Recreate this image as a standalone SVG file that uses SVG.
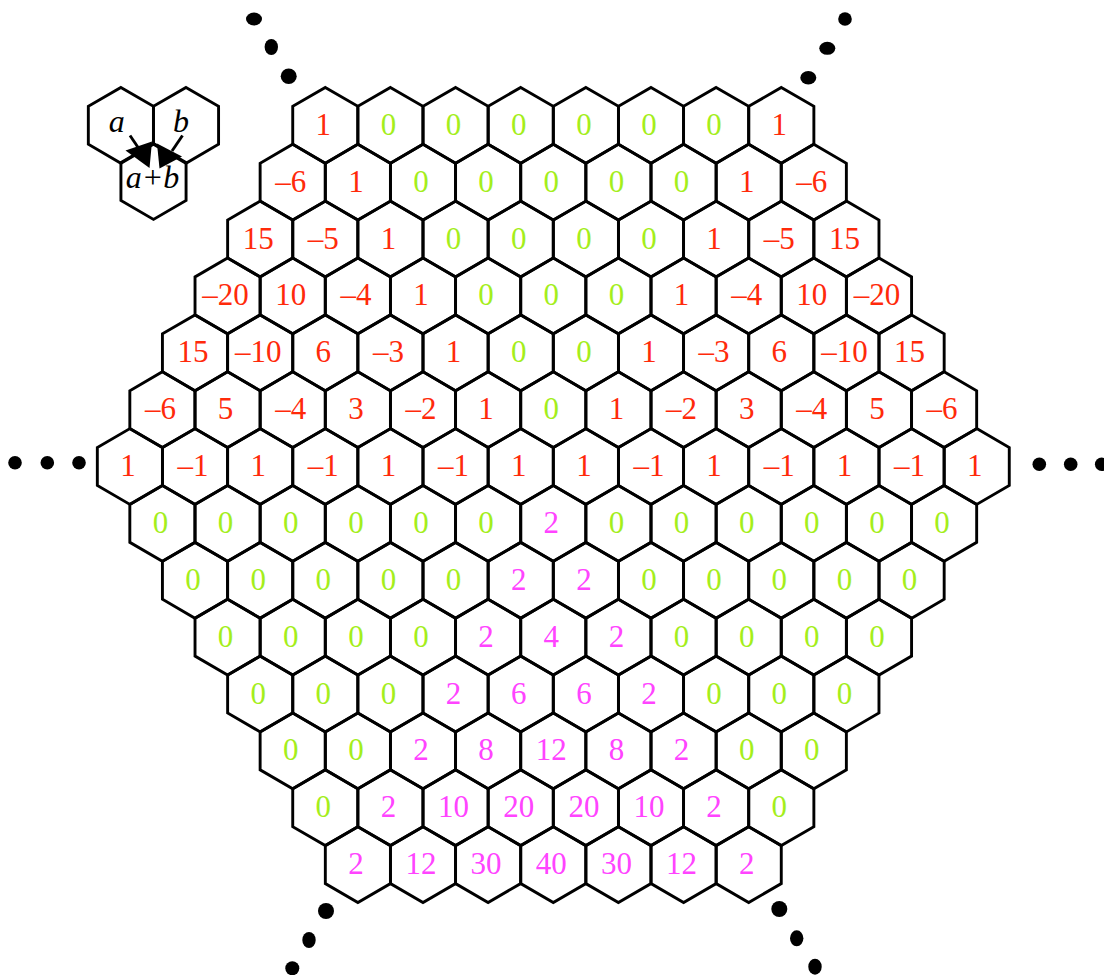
<svg xmlns="http://www.w3.org/2000/svg" xmlns:xlink="http://www.w3.org/1999/xlink" width="1104" height="975" viewBox="0 0 1104 975">
<style>
.hx{fill:none;stroke:#000;stroke-width:2.9;stroke-linejoin:miter}
text{font-family:"Liberation Serif","Times New Roman",serif;font-size:31px;text-anchor:middle}
.r{fill:#ff2a0a}.g{fill:#a4ee1c}.m{fill:#ff44ff}
.it{font-style:italic;font-size:32px;fill:#000}
.dot{fill:#000}
.ar{stroke:#000;stroke-width:2.9;fill:none}
.ah{fill:#000;stroke:none}
</style>
<defs>
<path id="hx" class="hx" d="M0,-37.9 L32.57,-18.95 L32.57,18.95 L0,37.9 L-32.57,18.95 L-32.57,-18.95 Z"/>
</defs>
<rect width="1104" height="975" fill="#fff"/>
<g id="legend">
<use href="#hx" x="120.9" y="125.3"/>
<use href="#hx" x="186" y="125.3"/>
<use href="#hx" x="153.5" y="181.5"/>
<text class="it" x="116.7" y="131.7">a</text>
<text class="it" x="181" y="131.7">b</text>
<text class="it" x="152.5" y="188.3">a+b</text>
</g>
<g id="connectors">
<line class="ar" x1="130" y1="135.5" x2="140.5" y2="151"/>
<polygon class="ah" points="125.5,150.5 152,141.5 149.5,168"/>
<line class="ar" x1="182.5" y1="135.5" x2="172" y2="151"/>
<polygon class="ah" points="157,143.5 182,156.5 159.5,168.5"/>
</g>
<g id="ellipses">
<ellipse class="dot" cx="254" cy="19" rx="8" ry="6.5"/>
<ellipse class="dot" cx="271.3" cy="47" rx="6.7" ry="8"/>
<ellipse class="dot" cx="288.7" cy="76.3" rx="8" ry="7.8"/>
<ellipse class="dot" cx="845" cy="19" rx="6.8" ry="6.8"/>
<ellipse class="dot" cx="827.3" cy="48.3" rx="8" ry="6.5"/>
<ellipse class="dot" cx="808.3" cy="77.7" rx="8" ry="6.7"/>
<ellipse class="dot" cx="15" cy="462.7" rx="6.8" ry="6.8"/>
<ellipse class="dot" cx="47.3" cy="462.7" rx="6.8" ry="6.8"/>
<ellipse class="dot" cx="79" cy="462.7" rx="6.8" ry="6.8"/>
<ellipse class="dot" cx="1039.3" cy="464.3" rx="6.8" ry="6.8"/>
<ellipse class="dot" cx="1070.7" cy="464.3" rx="6.8" ry="6.8"/>
<ellipse class="dot" cx="1101.7" cy="464.3" rx="6.8" ry="6.8"/>
<ellipse class="dot" cx="326" cy="911" rx="8" ry="8"/>
<ellipse class="dot" cx="309" cy="940" rx="6.7" ry="8"/>
<ellipse class="dot" cx="292.3" cy="968.3" rx="7" ry="7"/>
<ellipse class="dot" cx="779.3" cy="909" rx="8" ry="8"/>
<ellipse class="dot" cx="796.7" cy="938.3" rx="6.7" ry="8"/>
<ellipse class="dot" cx="815" cy="966.7" rx="6.7" ry="8"/>
</g>
<g id="grid">
<!-- row 0 -->
<g id="c0-0" transform="translate(325.3 125.3)"><use href="#hx"/><text class="r" x="-2" y="9.5">1</text></g>
<g id="c0-1" transform="translate(390.4 125.3)"><use href="#hx"/><text class="g" x="-2" y="9.5">0</text></g>
<g id="c0-2" transform="translate(455.6 125.3)"><use href="#hx"/><text class="g" x="-2" y="9.5">0</text></g>
<g id="c0-3" transform="translate(520.7 125.3)"><use href="#hx"/><text class="g" x="-2" y="9.5">0</text></g>
<g id="c0-4" transform="translate(585.9 125.3)"><use href="#hx"/><text class="g" x="-2" y="9.5">0</text></g>
<g id="c0-5" transform="translate(651.0 125.3)"><use href="#hx"/><text class="g" x="-2" y="9.5">0</text></g>
<g id="c0-6" transform="translate(716.1 125.3)"><use href="#hx"/><text class="g" x="-2" y="9.5">0</text></g>
<g id="c0-7" transform="translate(781.3 125.3)"><use href="#hx"/><text class="r" x="-2" y="9.5">1</text></g>
<!-- row 1 -->
<g id="c1-0" transform="translate(292.7 182.2)"><use href="#hx"/><text class="r" x="-2" y="9.5">–6</text></g>
<g id="c1-1" transform="translate(357.9 182.2)"><use href="#hx"/><text class="r" x="-2" y="9.5">1</text></g>
<g id="c1-2" transform="translate(423.0 182.2)"><use href="#hx"/><text class="g" x="-2" y="9.5">0</text></g>
<g id="c1-3" transform="translate(488.1 182.2)"><use href="#hx"/><text class="g" x="-2" y="9.5">0</text></g>
<g id="c1-4" transform="translate(553.3 182.2)"><use href="#hx"/><text class="g" x="-2" y="9.5">0</text></g>
<g id="c1-5" transform="translate(618.4 182.2)"><use href="#hx"/><text class="g" x="-2" y="9.5">0</text></g>
<g id="c1-6" transform="translate(683.6 182.2)"><use href="#hx"/><text class="g" x="-2" y="9.5">0</text></g>
<g id="c1-7" transform="translate(748.7 182.2)"><use href="#hx"/><text class="r" x="-2" y="9.5">1</text></g>
<g id="c1-8" transform="translate(813.8 182.2)"><use href="#hx"/><text class="r" x="-2" y="9.5">–6</text></g>
<!-- row 2 -->
<g id="c2-0" transform="translate(260.2 239.0)"><use href="#hx"/><text class="r" x="-2" y="9.5">15</text></g>
<g id="c2-1" transform="translate(325.3 239.0)"><use href="#hx"/><text class="r" x="-2" y="9.5">–5</text></g>
<g id="c2-2" transform="translate(390.4 239.0)"><use href="#hx"/><text class="r" x="-2" y="9.5">1</text></g>
<g id="c2-3" transform="translate(455.6 239.0)"><use href="#hx"/><text class="g" x="-2" y="9.5">0</text></g>
<g id="c2-4" transform="translate(520.7 239.0)"><use href="#hx"/><text class="g" x="-2" y="9.5">0</text></g>
<g id="c2-5" transform="translate(585.9 239.0)"><use href="#hx"/><text class="g" x="-2" y="9.5">0</text></g>
<g id="c2-6" transform="translate(651.0 239.0)"><use href="#hx"/><text class="g" x="-2" y="9.5">0</text></g>
<g id="c2-7" transform="translate(716.1 239.0)"><use href="#hx"/><text class="r" x="-2" y="9.5">1</text></g>
<g id="c2-8" transform="translate(781.3 239.0)"><use href="#hx"/><text class="r" x="-2" y="9.5">–5</text></g>
<g id="c2-9" transform="translate(846.4 239.0)"><use href="#hx"/><text class="r" x="-2" y="9.5">15</text></g>
<!-- row 3 -->
<g id="c3-0" transform="translate(227.6 295.9)"><use href="#hx"/><text class="r" x="-2" y="9.5">–20</text></g>
<g id="c3-1" transform="translate(292.7 295.9)"><use href="#hx"/><text class="r" x="-2" y="9.5">10</text></g>
<g id="c3-2" transform="translate(357.9 295.9)"><use href="#hx"/><text class="r" x="-2" y="9.5">–4</text></g>
<g id="c3-3" transform="translate(423.0 295.9)"><use href="#hx"/><text class="r" x="-2" y="9.5">1</text></g>
<g id="c3-4" transform="translate(488.1 295.9)"><use href="#hx"/><text class="g" x="-2" y="9.5">0</text></g>
<g id="c3-5" transform="translate(553.3 295.9)"><use href="#hx"/><text class="g" x="-2" y="9.5">0</text></g>
<g id="c3-6" transform="translate(618.4 295.9)"><use href="#hx"/><text class="g" x="-2" y="9.5">0</text></g>
<g id="c3-7" transform="translate(683.6 295.9)"><use href="#hx"/><text class="r" x="-2" y="9.5">1</text></g>
<g id="c3-8" transform="translate(748.7 295.9)"><use href="#hx"/><text class="r" x="-2" y="9.5">–4</text></g>
<g id="c3-9" transform="translate(813.8 295.9)"><use href="#hx"/><text class="r" x="-2" y="9.5">10</text></g>
<g id="c3-10" transform="translate(879.0 295.9)"><use href="#hx"/><text class="r" x="-2" y="9.5">–20</text></g>
<!-- row 4 -->
<g id="c4-0" transform="translate(195.0 352.8)"><use href="#hx"/><text class="r" x="-2" y="9.5">15</text></g>
<g id="c4-1" transform="translate(260.2 352.8)"><use href="#hx"/><text class="r" x="-2" y="9.5">–10</text></g>
<g id="c4-2" transform="translate(325.3 352.8)"><use href="#hx"/><text class="r" x="-2" y="9.5">6</text></g>
<g id="c4-3" transform="translate(390.4 352.8)"><use href="#hx"/><text class="r" x="-2" y="9.5">–3</text></g>
<g id="c4-4" transform="translate(455.6 352.8)"><use href="#hx"/><text class="r" x="-2" y="9.5">1</text></g>
<g id="c4-5" transform="translate(520.7 352.8)"><use href="#hx"/><text class="g" x="-2" y="9.5">0</text></g>
<g id="c4-6" transform="translate(585.9 352.8)"><use href="#hx"/><text class="g" x="-2" y="9.5">0</text></g>
<g id="c4-7" transform="translate(651.0 352.8)"><use href="#hx"/><text class="r" x="-2" y="9.5">1</text></g>
<g id="c4-8" transform="translate(716.1 352.8)"><use href="#hx"/><text class="r" x="-2" y="9.5">–3</text></g>
<g id="c4-9" transform="translate(781.3 352.8)"><use href="#hx"/><text class="r" x="-2" y="9.5">6</text></g>
<g id="c4-10" transform="translate(846.4 352.8)"><use href="#hx"/><text class="r" x="-2" y="9.5">–10</text></g>
<g id="c4-11" transform="translate(911.6 352.8)"><use href="#hx"/><text class="r" x="-2" y="9.5">15</text></g>
<!-- row 5 -->
<g id="c5-0" transform="translate(162.4 409.7)"><use href="#hx"/><text class="r" x="-2" y="9.5">–6</text></g>
<g id="c5-1" transform="translate(227.6 409.7)"><use href="#hx"/><text class="r" x="-2" y="9.5">5</text></g>
<g id="c5-2" transform="translate(292.7 409.7)"><use href="#hx"/><text class="r" x="-2" y="9.5">–4</text></g>
<g id="c5-3" transform="translate(357.9 409.7)"><use href="#hx"/><text class="r" x="-2" y="9.5">3</text></g>
<g id="c5-4" transform="translate(423.0 409.7)"><use href="#hx"/><text class="r" x="-2" y="9.5">–2</text></g>
<g id="c5-5" transform="translate(488.1 409.7)"><use href="#hx"/><text class="r" x="-2" y="9.5">1</text></g>
<g id="c5-6" transform="translate(553.3 409.7)"><use href="#hx"/><text class="g" x="-2" y="9.5">0</text></g>
<g id="c5-7" transform="translate(618.4 409.7)"><use href="#hx"/><text class="r" x="-2" y="9.5">1</text></g>
<g id="c5-8" transform="translate(683.6 409.7)"><use href="#hx"/><text class="r" x="-2" y="9.5">–2</text></g>
<g id="c5-9" transform="translate(748.7 409.7)"><use href="#hx"/><text class="r" x="-2" y="9.5">3</text></g>
<g id="c5-10" transform="translate(813.8 409.7)"><use href="#hx"/><text class="r" x="-2" y="9.5">–4</text></g>
<g id="c5-11" transform="translate(879.0 409.7)"><use href="#hx"/><text class="r" x="-2" y="9.5">5</text></g>
<g id="c5-12" transform="translate(944.1 409.7)"><use href="#hx"/><text class="r" x="-2" y="9.5">–6</text></g>
<!-- row 6 -->
<g id="c6-0" transform="translate(129.9 466.5)"><use href="#hx"/><text class="r" x="-2" y="9.5">1</text></g>
<g id="c6-1" transform="translate(195.0 466.5)"><use href="#hx"/><text class="r" x="-2" y="9.5">–1</text></g>
<g id="c6-2" transform="translate(260.2 466.5)"><use href="#hx"/><text class="r" x="-2" y="9.5">1</text></g>
<g id="c6-3" transform="translate(325.3 466.5)"><use href="#hx"/><text class="r" x="-2" y="9.5">–1</text></g>
<g id="c6-4" transform="translate(390.4 466.5)"><use href="#hx"/><text class="r" x="-2" y="9.5">1</text></g>
<g id="c6-5" transform="translate(455.6 466.5)"><use href="#hx"/><text class="r" x="-2" y="9.5">–1</text></g>
<g id="c6-6" transform="translate(520.7 466.5)"><use href="#hx"/><text class="r" x="-2" y="9.5">1</text></g>
<g id="c6-7" transform="translate(585.9 466.5)"><use href="#hx"/><text class="r" x="-2" y="9.5">1</text></g>
<g id="c6-8" transform="translate(651.0 466.5)"><use href="#hx"/><text class="r" x="-2" y="9.5">–1</text></g>
<g id="c6-9" transform="translate(716.1 466.5)"><use href="#hx"/><text class="r" x="-2" y="9.5">1</text></g>
<g id="c6-10" transform="translate(781.3 466.5)"><use href="#hx"/><text class="r" x="-2" y="9.5">–1</text></g>
<g id="c6-11" transform="translate(846.4 466.5)"><use href="#hx"/><text class="r" x="-2" y="9.5">1</text></g>
<g id="c6-12" transform="translate(911.6 466.5)"><use href="#hx"/><text class="r" x="-2" y="9.5">–1</text></g>
<g id="c6-13" transform="translate(976.7 466.5)"><use href="#hx"/><text class="r" x="-2" y="9.5">1</text></g>
<!-- row 7 -->
<g id="c7-0" transform="translate(162.4 523.4)"><use href="#hx"/><text class="g" x="-2" y="9.5">0</text></g>
<g id="c7-1" transform="translate(227.6 523.4)"><use href="#hx"/><text class="g" x="-2" y="9.5">0</text></g>
<g id="c7-2" transform="translate(292.7 523.4)"><use href="#hx"/><text class="g" x="-2" y="9.5">0</text></g>
<g id="c7-3" transform="translate(357.9 523.4)"><use href="#hx"/><text class="g" x="-2" y="9.5">0</text></g>
<g id="c7-4" transform="translate(423.0 523.4)"><use href="#hx"/><text class="g" x="-2" y="9.5">0</text></g>
<g id="c7-5" transform="translate(488.1 523.4)"><use href="#hx"/><text class="g" x="-2" y="9.5">0</text></g>
<g id="c7-6" transform="translate(553.3 523.4)"><use href="#hx"/><text class="m" x="-2" y="9.5">2</text></g>
<g id="c7-7" transform="translate(618.4 523.4)"><use href="#hx"/><text class="g" x="-2" y="9.5">0</text></g>
<g id="c7-8" transform="translate(683.6 523.4)"><use href="#hx"/><text class="g" x="-2" y="9.5">0</text></g>
<g id="c7-9" transform="translate(748.7 523.4)"><use href="#hx"/><text class="g" x="-2" y="9.5">0</text></g>
<g id="c7-10" transform="translate(813.8 523.4)"><use href="#hx"/><text class="g" x="-2" y="9.5">0</text></g>
<g id="c7-11" transform="translate(879.0 523.4)"><use href="#hx"/><text class="g" x="-2" y="9.5">0</text></g>
<g id="c7-12" transform="translate(944.1 523.4)"><use href="#hx"/><text class="g" x="-2" y="9.5">0</text></g>
<!-- row 8 -->
<g id="c8-0" transform="translate(195.0 580.3)"><use href="#hx"/><text class="g" x="-2" y="9.5">0</text></g>
<g id="c8-1" transform="translate(260.2 580.3)"><use href="#hx"/><text class="g" x="-2" y="9.5">0</text></g>
<g id="c8-2" transform="translate(325.3 580.3)"><use href="#hx"/><text class="g" x="-2" y="9.5">0</text></g>
<g id="c8-3" transform="translate(390.4 580.3)"><use href="#hx"/><text class="g" x="-2" y="9.5">0</text></g>
<g id="c8-4" transform="translate(455.6 580.3)"><use href="#hx"/><text class="g" x="-2" y="9.5">0</text></g>
<g id="c8-5" transform="translate(520.7 580.3)"><use href="#hx"/><text class="m" x="-2" y="9.5">2</text></g>
<g id="c8-6" transform="translate(585.9 580.3)"><use href="#hx"/><text class="m" x="-2" y="9.5">2</text></g>
<g id="c8-7" transform="translate(651.0 580.3)"><use href="#hx"/><text class="g" x="-2" y="9.5">0</text></g>
<g id="c8-8" transform="translate(716.1 580.3)"><use href="#hx"/><text class="g" x="-2" y="9.5">0</text></g>
<g id="c8-9" transform="translate(781.3 580.3)"><use href="#hx"/><text class="g" x="-2" y="9.5">0</text></g>
<g id="c8-10" transform="translate(846.4 580.3)"><use href="#hx"/><text class="g" x="-2" y="9.5">0</text></g>
<g id="c8-11" transform="translate(911.6 580.3)"><use href="#hx"/><text class="g" x="-2" y="9.5">0</text></g>
<!-- row 9 -->
<g id="c9-0" transform="translate(227.6 637.1)"><use href="#hx"/><text class="g" x="-2" y="9.5">0</text></g>
<g id="c9-1" transform="translate(292.7 637.1)"><use href="#hx"/><text class="g" x="-2" y="9.5">0</text></g>
<g id="c9-2" transform="translate(357.9 637.1)"><use href="#hx"/><text class="g" x="-2" y="9.5">0</text></g>
<g id="c9-3" transform="translate(423.0 637.1)"><use href="#hx"/><text class="g" x="-2" y="9.5">0</text></g>
<g id="c9-4" transform="translate(488.1 637.1)"><use href="#hx"/><text class="m" x="-2" y="9.5">2</text></g>
<g id="c9-5" transform="translate(553.3 637.1)"><use href="#hx"/><text class="m" x="-2" y="9.5">4</text></g>
<g id="c9-6" transform="translate(618.4 637.1)"><use href="#hx"/><text class="m" x="-2" y="9.5">2</text></g>
<g id="c9-7" transform="translate(683.6 637.1)"><use href="#hx"/><text class="g" x="-2" y="9.5">0</text></g>
<g id="c9-8" transform="translate(748.7 637.1)"><use href="#hx"/><text class="g" x="-2" y="9.5">0</text></g>
<g id="c9-9" transform="translate(813.8 637.1)"><use href="#hx"/><text class="g" x="-2" y="9.5">0</text></g>
<g id="c9-10" transform="translate(879.0 637.1)"><use href="#hx"/><text class="g" x="-2" y="9.5">0</text></g>
<!-- row 10 -->
<g id="c10-0" transform="translate(260.2 694.0)"><use href="#hx"/><text class="g" x="-2" y="9.5">0</text></g>
<g id="c10-1" transform="translate(325.3 694.0)"><use href="#hx"/><text class="g" x="-2" y="9.5">0</text></g>
<g id="c10-2" transform="translate(390.4 694.0)"><use href="#hx"/><text class="g" x="-2" y="9.5">0</text></g>
<g id="c10-3" transform="translate(455.6 694.0)"><use href="#hx"/><text class="m" x="-2" y="9.5">2</text></g>
<g id="c10-4" transform="translate(520.7 694.0)"><use href="#hx"/><text class="m" x="-2" y="9.5">6</text></g>
<g id="c10-5" transform="translate(585.9 694.0)"><use href="#hx"/><text class="m" x="-2" y="9.5">6</text></g>
<g id="c10-6" transform="translate(651.0 694.0)"><use href="#hx"/><text class="m" x="-2" y="9.5">2</text></g>
<g id="c10-7" transform="translate(716.1 694.0)"><use href="#hx"/><text class="g" x="-2" y="9.5">0</text></g>
<g id="c10-8" transform="translate(781.3 694.0)"><use href="#hx"/><text class="g" x="-2" y="9.5">0</text></g>
<g id="c10-9" transform="translate(846.4 694.0)"><use href="#hx"/><text class="g" x="-2" y="9.5">0</text></g>
<!-- row 11 -->
<g id="c11-0" transform="translate(292.7 750.9)"><use href="#hx"/><text class="g" x="-2" y="9.5">0</text></g>
<g id="c11-1" transform="translate(357.9 750.9)"><use href="#hx"/><text class="g" x="-2" y="9.5">0</text></g>
<g id="c11-2" transform="translate(423.0 750.9)"><use href="#hx"/><text class="m" x="-2" y="9.5">2</text></g>
<g id="c11-3" transform="translate(488.1 750.9)"><use href="#hx"/><text class="m" x="-2" y="9.5">8</text></g>
<g id="c11-4" transform="translate(553.3 750.9)"><use href="#hx"/><text class="m" x="-2" y="9.5">12</text></g>
<g id="c11-5" transform="translate(618.4 750.9)"><use href="#hx"/><text class="m" x="-2" y="9.5">8</text></g>
<g id="c11-6" transform="translate(683.6 750.9)"><use href="#hx"/><text class="m" x="-2" y="9.5">2</text></g>
<g id="c11-7" transform="translate(748.7 750.9)"><use href="#hx"/><text class="g" x="-2" y="9.5">0</text></g>
<g id="c11-8" transform="translate(813.8 750.9)"><use href="#hx"/><text class="g" x="-2" y="9.5">0</text></g>
<!-- row 12 -->
<g id="c12-0" transform="translate(325.3 807.7)"><use href="#hx"/><text class="g" x="-2" y="9.5">0</text></g>
<g id="c12-1" transform="translate(390.4 807.7)"><use href="#hx"/><text class="m" x="-2" y="9.5">2</text></g>
<g id="c12-2" transform="translate(455.6 807.7)"><use href="#hx"/><text class="m" x="-2" y="9.5">10</text></g>
<g id="c12-3" transform="translate(520.7 807.7)"><use href="#hx"/><text class="m" x="-2" y="9.5">20</text></g>
<g id="c12-4" transform="translate(585.9 807.7)"><use href="#hx"/><text class="m" x="-2" y="9.5">20</text></g>
<g id="c12-5" transform="translate(651.0 807.7)"><use href="#hx"/><text class="m" x="-2" y="9.5">10</text></g>
<g id="c12-6" transform="translate(716.1 807.7)"><use href="#hx"/><text class="m" x="-2" y="9.5">2</text></g>
<g id="c12-7" transform="translate(781.3 807.7)"><use href="#hx"/><text class="g" x="-2" y="9.5">0</text></g>
<!-- row 13 -->
<g id="c13-0" transform="translate(357.9 864.6)"><use href="#hx"/><text class="m" x="-2" y="9.5">2</text></g>
<g id="c13-1" transform="translate(423.0 864.6)"><use href="#hx"/><text class="m" x="-2" y="9.5">12</text></g>
<g id="c13-2" transform="translate(488.1 864.6)"><use href="#hx"/><text class="m" x="-2" y="9.5">30</text></g>
<g id="c13-3" transform="translate(553.3 864.6)"><use href="#hx"/><text class="m" x="-2" y="9.5">40</text></g>
<g id="c13-4" transform="translate(618.4 864.6)"><use href="#hx"/><text class="m" x="-2" y="9.5">30</text></g>
<g id="c13-5" transform="translate(683.6 864.6)"><use href="#hx"/><text class="m" x="-2" y="9.5">12</text></g>
<g id="c13-6" transform="translate(748.7 864.6)"><use href="#hx"/><text class="m" x="-2" y="9.5">2</text></g>
</g>
</svg>
